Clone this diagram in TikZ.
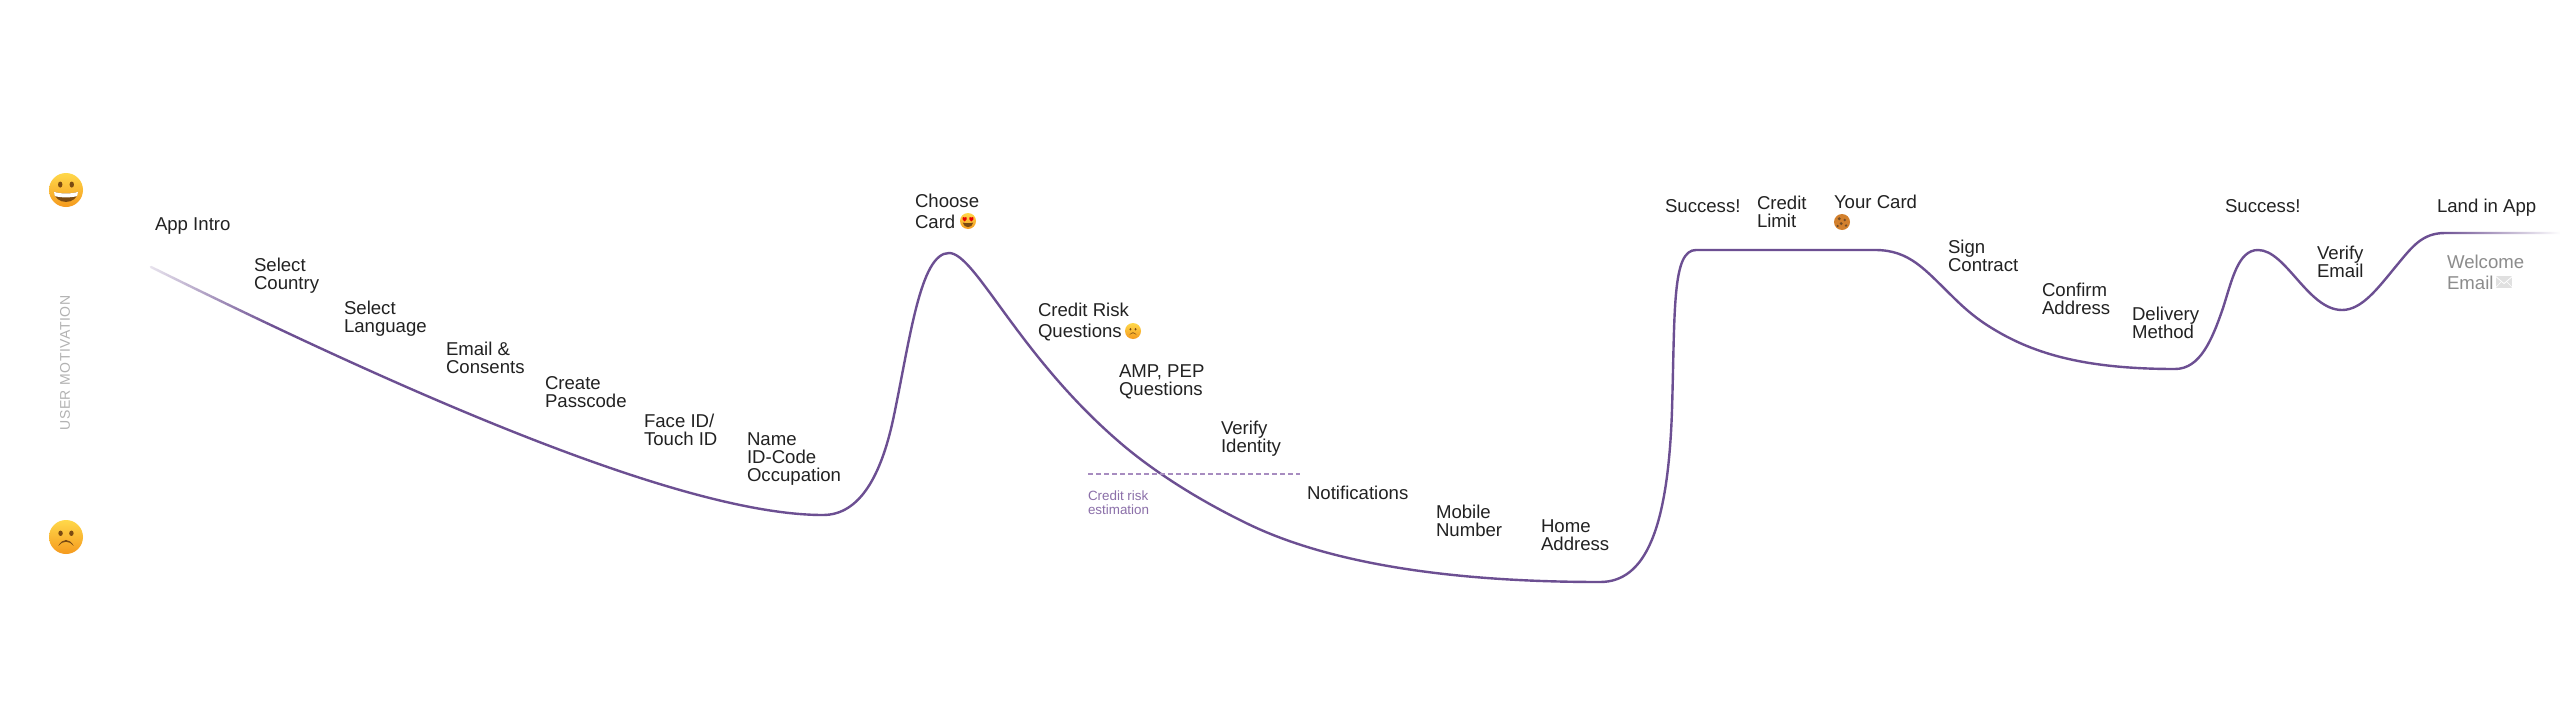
\documentclass[tikz,border=0pt]{standalone}
\usepackage{fontspec}
\setmainfont{Liberation Sans}
\newfontfamily\spacedfont[LetterSpace=4]{Liberation Sans}
\usetikzlibrary{fadings}
\definecolor{curvec}{HTML}{6C4F92}
\definecolor{dashc}{HTML}{A78CC0}
\definecolor{risktext}{HTML}{8B6FA9}
\definecolor{inkc}{HTML}{222222}
\definecolor{greyc}{HTML}{8C8C8C}
\definecolor{faceup}{HTML}{FFD84A}
\definecolor{facedown}{HTML}{F59A1E}
\definecolor{facedark}{HTML}{7A4A12}
\tikzfading[name=fadeinleft,left color=transparent!12,right color=transparent!100]
\tikzfading[name=fadeoutright,left color=transparent!100,right color=transparent!0]
\tikzset{
  steplabel/.style={anchor=west,inner sep=0pt,outer sep=0pt,align=left,text=inkc,font=\fontsize{18.6}{18}\selectfont},
  widelabel/.style={steplabel,font=\fontsize{18.6}{21}\selectfont},
  greylabel/.style={widelabel,text=greyc},
  smalllabel/.style={anchor=west,inner sep=0pt,outer sep=0pt,align=left,text=risktext,font=\fontsize{13.4}{14}\selectfont},
  axislabel/.style={inner sep=0pt,rotate=90,text=black!30,font=\fontsize{14}{14}\spacedfont},
  journey/.style={draw=curvec,line width=2.4pt,line cap=round,line join=round},
  threshold/.style={draw=dashc,line width=1.2pt,dash pattern=on 4.5pt off 3.5pt},
  smileface/.pic={
    \shade[top color=faceup,bottom color=facedown] (0,0) circle [radius=1];
    \fill[facedark] (-.34,-.32) ellipse [x radius=.13,y radius=.18];
    \fill[facedark] (.34,-.32) ellipse [x radius=.13,y radius=.18];
    \fill[facedark] (-.7,.1) .. controls (-.4,.24) and (.4,.24) .. (.7,.1) .. controls (.66,.9) and (-.66,.9) .. (-.7,.1) -- cycle;
    \fill[white] (-.7,.1) .. controls (-.4,.24) and (.4,.24) .. (.7,.1) .. controls (.7,.22) and (.68,.3) .. (.64,.36) .. controls (.3,.46) and (-.3,.46) .. (-.64,.36) .. controls (-.68,.3) and (-.7,.22) .. (-.7,.1) -- cycle;
  },
  frownface/.pic={
    \shade[top color=faceup,bottom color=facedown] (0,0) circle [radius=1];
    \fill[facedark] (-.32,-.22) ellipse [x radius=.13,y radius=.16];
    \fill[facedark] (.32,-.22) ellipse [x radius=.13,y radius=.16];
    \fill[facedark] (-.45,.52) .. controls (-.22,.06) and (.22,.06) .. (.45,.52) .. controls (.2,.2) and (-.2,.2) .. (-.45,.52) -- cycle;
  },
  lovefaceicon/.pic={
    \shade[top color=faceup,bottom color=facedown] (0,0) circle [radius=1];
    \fill[facedark] (-.65,.2) .. controls (-.3,.3) and (.3,.3) .. (.65,.2) .. controls (.55,.95) and (-.55,.95) .. (-.65,.2) -- cycle;
    \fill[red!90!black] (-.42,.05) .. controls (-.9,-.25) and (-.65,-.65) .. (-.42,-.42) .. controls (-.2,-.65) and (.05,-.25) .. (-.42,.05) -- cycle;
    \fill[red!90!black] (.42,.05) .. controls (.9,-.25) and (.65,-.65) .. (.42,-.42) .. controls (.2,-.65) and (-.05,-.25) .. (.42,.05) -- cycle;
  },
  cookieicon/.pic={
    \fill[brown!70!orange] (0,0) circle [radius=1];
    \fill[brown!60!black] (-.35,-.4) circle [radius=.2];
    \fill[brown!60!black] (.35,-.25) circle [radius=.17];
    \fill[brown!60!black] (-.1,.2) circle [radius=.2];
    \fill[brown!60!black] (.5,.45) circle [radius=.17];
    \fill[brown!60!black] (-.55,.5) circle [radius=.15];
  },
  mailicon/.pic={
    \fill[black!12] (-8.4,-5.6) rectangle (8.4,5.6);
    \draw[white,line width=.8pt] (-8.4,-5.6) -- (0,1.6) -- (8.4,-5.6);
    \draw[white,line width=.5pt] (-8.4,5.6) -- (-2.5,-.5) (8.4,5.6) -- (2.5,-.5);
  }
}
\begin{document}
\begin{tikzpicture}[x=1pt,y=-1pt]
\useasboundingbox (0,0) rectangle (2560,728);
\fill[white] (0,0) rectangle (2560,728);

\coordinate (startpt) at (151,267);
\coordinate (endpt) at (2560,233);
\path[journey] (startpt)
  .. controls (400,390) and (680,515) .. (823,515)
  .. controls (860,515) and (881,475) .. (893,420)
  .. controls (910,340) and (920,253) .. (949,253)
  .. controls (975,253) and (1017,353) .. (1117,440)
  .. controls (1150,469) and (1195,498) .. (1244,522)
  .. controls (1340,570) and (1480,582) .. (1600,582)
  .. controls (1645,582) and (1668,530) .. (1672,410)
  .. controls (1675,310) and (1672,250) .. (1696,250)
  -- (1875,250)
  .. controls (1910,250) and (1925,270) .. (1953,297)
  .. controls (1965,309) and (1977,319) .. (1990,327)
  .. controls (2030,352) and (2080,369) .. (2175,369)
  .. controls (2200,369) and (2212,340) .. (2223,308)
  .. controls (2232,280) and (2238,250) .. (2258,250)
  .. controls (2286,250) and (2308,310) .. (2342,310)
  .. controls (2362,310) and (2378,288) .. (2397,265)
  .. controls (2412,247) and (2422,233) .. (2445,233)
  -- (endpt);
\fill[white,path fading=fadeinleft] (145,255) rectangle (275,335);
\fill[white,path fading=fadeoutright] (2440,228) rectangle (2560,238);

\coordinate (riskleft) at (1088,474);
\coordinate (riskright) at (1300,474);
\draw[threshold] (riskleft) -- (riskright);
\node[smalllabel] (risk) at (1088,503) {Credit risk\\estimation};

\node[axislabel] (axis) at (65,363) {USER MOTIVATION};
\pic[scale=17] at (66,190) {smileface};
\pic[scale=17] at (66,537) {frownface};

\node[steplabel] (intro) at (155,226) {App Intro};
\node[steplabel] (country) at (254,276) {Select\\Country};
\node[steplabel] (language) at (344,319) {Select\\Language};
\node[steplabel] (consents) at (446,358) {Email \&\\Consents};
\node[steplabel] (passcode) at (545,392) {Create\\Passcode};
\node[steplabel] (faceid) at (644,430) {Face ID/\\Touch ID};
\node[steplabel] (name) at (747,459) {Name\\ID-Code\\Occupation};
\node[widelabel] (choose) at (915,211) {Choose\\Card};
\pic[scale=8] at (968,221) {lovefaceicon};
\node[widelabel] (riskq) at (1038,322) {Credit Risk\\Questions};
\pic[scale=8] at (1133,331) {frownface};
\node[steplabel] (amp) at (1119,382) {AMP, PEP\\Questions};
\node[steplabel] (identity) at (1221,439) {Verify\\Identity};
\node[steplabel] (notif) at (1307,493) {Notifications};
\node[steplabel] (mobile) at (1436,521) {Mobile\\Number};
\node[steplabel] (home) at (1541,535) {Home\\Address};
\node[steplabel] (success) at (1665,206) {Success!};
\node[steplabel] (limit) at (1757,212) {Credit\\Limit};
\node[steplabel] (yourcard) at (1834,202) {Your Card};
\pic[scale=8] at (1842,222) {cookieicon};
\node[steplabel] (sign) at (1948,256) {Sign\\Contract};
\node[steplabel] (confirm) at (2042,299) {Confirm\\Address};
\node[steplabel] (delivery) at (2132,323) {Delivery\\Method};
\node[steplabel] (success2) at (2225,206) {Success!};
\node[steplabel] (verifymail) at (2317,262) {Verify\\Email};
\node[steplabel] (land) at (2437,208) {Land in App};
\node[greylabel] (welcome) at (2447,272) {Welcome\\Email};
\pic at (2504,282) {mailicon};
\end{tikzpicture}
\end{document}
